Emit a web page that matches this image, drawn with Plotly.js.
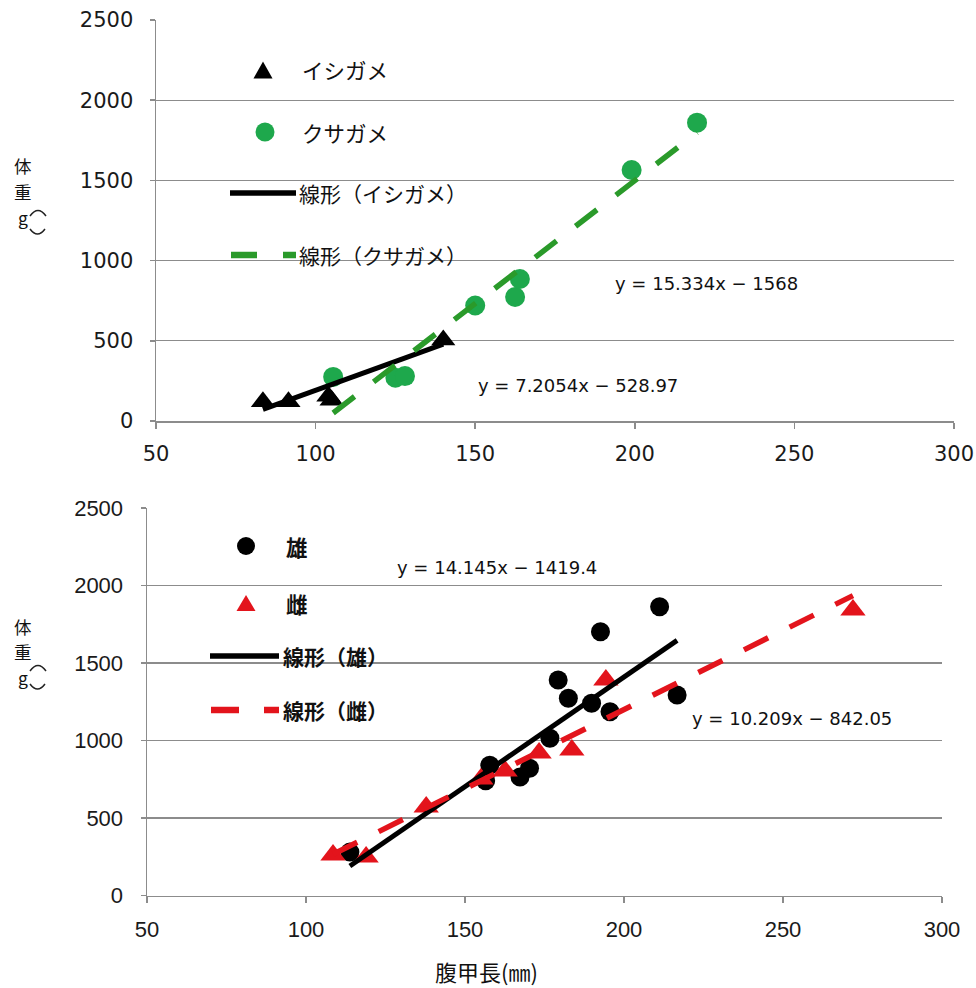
<!DOCTYPE html>
<html>
<head>
<meta charset="utf-8">
<script src="https://cdn.plot.ly/plotly-3.0.1.min.js"></script>
<style>html,body{margin:0;padding:0;background:#fff;}#chart{width:976px;height:988px;}</style>
</head>
<body>
<div id="chart"></div>
<script>
// ---- Data ----
// Top chart: species
const ishiX = [83.5, 91.5, 104, 105, 140];          // イシガメ 腹甲長
const ishiY = [120, 120, 155, 130, 505];            // イシガメ 体重
const kusaX = [105.5, 125, 128, 150, 162.5, 164, 199, 219.5];   // クサガメ
const kusaY = [275, 270, 280, 720, 773, 885, 1565, 1860];
// Bottom chart: sex
const osuX = [113.8, 156.5, 157.8, 167.3, 170.3, 176.7, 179.3, 182.5, 189.8, 192.6, 195.6, 211.2, 216.7]; // 雄
const osuY = [280, 740, 840, 765, 821, 1014, 1390, 1272, 1240, 1702, 1186, 1863, 1294];
const mesuX = [108.5, 118.9, 137.8, 155, 162.6, 173.3, 183.6, 194.3, 272];  // 雌
const mesuY = [261, 248, 571, 752, 803, 919, 939, 1390, 1842];
// Trendline coefficients as printed on the chart
const fitIshi = {slope: 7.2054, icpt: -528.97};
const fitKusa = {slope: 15.334, icpt: -1568};
const fitOsu  = {slope: 14.145, icpt: -1419.4};
const fitMesu = {slope: 10.209, icpt: -842.05};
// Labels
const seriesNames1 = ["イシガメ", "クサガメ", "線形（イシガメ）", "線形（クサガメ）"];
const seriesNames2 = ["雄", "雌", "線形（雄）", "線形（雌）"];
const xTitle = "腹甲長(㎜)";
const yTitleChars = ["体", "重", "g"];
const xTicks = [50, 100, 150, 200, 250, 300];
const yTicks = [0, 500, 1000, 1500, 2000, 2500];

// ---- Helpers ----
const W = 976, H = 988;
const PX = x => x / W;
const PY = y => 1 - y / H;
function fmtEq(f) {
  const s = f.icpt < 0 ? " − " : " + ";
  return "y = " + f.slope + "x" + s + Math.abs(f.icpt);
}
function fitLine(xs, f) {
  const lo = Math.min(...xs), hi = Math.max(...xs);
  return {x: [lo, hi], y: [f.slope * lo + f.icpt, f.slope * hi + f.icpt]};
}

const black = "#000000";
const greenPt = "#1ea84c";
const greenLn = "#2a9a2a";
const red = "#e3141c";
const gridC = "#8c8c8c";

const l1 = fitLine(ishiX, fitIshi), l2 = fitLine(kusaX, fitKusa);
const l3 = fitLine(osuX, fitOsu), l4 = fitLine(mesuX, fitMesu);

const traces = [
  {x: ishiX, y: ishiY, type: "scatter", mode: "markers", name: seriesNames1[0], xaxis: "x", yaxis: "y",
   marker: {symbol: "triangle-up", size: 21, color: black}},
  {x: kusaX, y: kusaY, type: "scatter", mode: "markers", name: seriesNames1[1], xaxis: "x", yaxis: "y",
   marker: {symbol: "circle", size: 20, color: greenPt}},
  {x: l1.x, y: l1.y, type: "scatter", mode: "lines", name: seriesNames1[2], xaxis: "x", yaxis: "y",
   line: {color: black, width: 5}},
  {x: l2.x, y: l2.y, type: "scatter", mode: "lines", name: seriesNames1[3], xaxis: "x", yaxis: "y",
   line: {color: greenLn, width: 5.5, dash: "27px,24px"}},
  {x: osuX, y: osuY, type: "scatter", mode: "markers", name: seriesNames2[0], xaxis: "x2", yaxis: "y2",
   marker: {symbol: "circle", size: 19, color: black}},
  {x: mesuX, y: mesuY, type: "scatter", mode: "markers", name: seriesNames2[1], xaxis: "x2", yaxis: "y2",
   marker: {symbol: "triangle-up", size: 22, color: red}},
  {x: l3.x, y: l3.y, type: "scatter", mode: "lines", name: seriesNames2[2], xaxis: "x2", yaxis: "y2",
   line: {color: black, width: 5}},
  {x: l4.x, y: l4.y, type: "scatter", mode: "lines", name: seriesNames2[3], xaxis: "x2", yaxis: "y2",
   line: {color: red, width: 5.5, dash: "27px,24px"}}
];

const tickTop = {family: "DejaVu Sans, Arial, sans-serif", size: 21, color: "#1a1a1a"};
const tickBot = {family: "Liberation Sans Narrow, Liberation Sans, Arial, sans-serif", size: 22, color: "#1a1a1a"};
function xax(domain, font, anchor, stand) {
  return {domain: domain, anchor: anchor, range: [50, 300], tickmode: "array", tickvals: xTicks,
    showgrid: false, zeroline: false, showline: true, linecolor: gridC, linewidth: 1.5,
    ticks: "outside", ticklen: 6, tickcolor: gridC, tickwidth: 1.5, tickfont: font,
    ticklabelstandoff: stand, automargin: false, fixedrange: true};
}
function yax(domain, font, anchor, stand) {
  return {domain: domain, anchor: anchor, range: [0, 2500], tickmode: "array", tickvals: yTicks,
    showgrid: true, gridcolor: gridC, gridwidth: 1.4, zeroline: false, showline: true, linecolor: gridC,
    linewidth: 1.5, ticks: "outside", ticklen: 5, tickcolor: gridC, tickwidth: 1.5, tickfont: font,
    ticklabelstandoff: stand, automargin: false, fixedrange: true};
}

const jp = "Noto Sans CJK JP, sans-serif";
const anns = [];
function txt(t, x, y, size, xanchor, font, weight) {
  anns.push({text: t, x: PX(x), y: PY(y), xref: "paper", yref: "paper", showarrow: false,
    xanchor: xanchor || "center", yanchor: "middle",
    font: {family: font || jp, size: size, color: "#111", weight: weight || "normal"}});
}
// Legend texts (top)
txt(seriesNames1[0], 300, 70, 21.5, "left");
txt(seriesNames1[1], 300, 132, 21.5, "left");
txt(seriesNames1[2], 297, 193, 21, "left");
txt(seriesNames1[3], 297, 255, 21, "left");
// Legend texts (bottom)
txt(seriesNames2[0], 284, 546, 21.5, "left", jp, "bold");
txt(seriesNames2[1], 284, 603, 21.5, "left", jp, "bold");
txt(seriesNames2[2], 281, 656, 21, "left", jp, "bold");
txt(seriesNames2[3], 281, 710, 21, "left", jp, "bold");
// Equations
const eqFont = "DejaVu Sans, Arial, sans-serif";
txt(fmtEq(fitKusa), 706, 283, 18, "center", eqFont);
txt(fmtEq(fitIshi), 578, 385, 18, "center", eqFont);
txt(fmtEq(fitOsu), 497, 567, 18, "center", eqFont);
txt(fmtEq(fitMesu), 792, 718, 18, "center", eqFont);
// Axis titles (stacked vertical text, one character per line)
[[166, 191.5, 217], [626, 651.5, 677]].forEach(ys => {
  yTitleChars.forEach((c, i) => txt(c, 23, ys[i], 17.5));
});
txt(xTitle, 486, 971, 22);

const shapes = [];
function seg(x0, x1, y, color, w) {
  shapes.push({type: "line", xref: "paper", yref: "paper", x0: PX(x0), x1: PX(x1), y0: PY(y), y1: PY(y),
    line: {color: color, width: w}});
}
function dot(cx, cy, r, color) {
  shapes.push({type: "circle", xref: "paper", yref: "paper", x0: PX(cx - r), x1: PX(cx + r),
    y0: PY(cy + r), y1: PY(cy - r), fillcolor: color, line: {width: 0}});
}
function tri(cx, cy, w, h, color) {
  const p = "M" + PX(cx - w / 2) + "," + PY(cy + h / 2) + " L" + PX(cx + w / 2) + "," + PY(cy + h / 2) +
    " L" + PX(cx) + "," + PY(cy - h / 2) + " Z";
  shapes.push({type: "path", xref: "paper", yref: "paper", path: p, fillcolor: color, line: {width: 0}});
}
function arc(x0, x1, y, dy, color) {
  const p = "M" + PX(x0) + "," + PY(y) + " Q" + PX((x0 + x1) / 2) + "," + PY(y + dy) + " " + PX(x1) + "," + PY(y);
  shapes.push({type: "path", xref: "paper", yref: "paper", path: p, line: {color: color, width: 1.5}});
}
// Top legend symbols
tri(263, 70, 19, 17, black);
dot(265, 132, 9.5, greenPt);
seg(230, 296, 193, black, 5.5);
seg(231, 257, 255, greenLn, 6.5);
seg(283, 296, 255, greenLn, 6.5);
// Bottom legend symbols
dot(246, 546, 9, black);
tri(246, 603, 19, 16, red);
seg(210, 279, 656, black, 5.5);
seg(211, 239, 710, red, 6.5);
seg(264, 279, 710, red, 6.5);
// parentheses of (g), drawn rotated as in the reference
arc(30, 46, 216, -11, "#222");
arc(30, 45, 229, 10, "#222");
arc(30, 46, 671, -11, "#222");
arc(30, 45, 684, 10, "#222");

const layout = {
  width: W, height: H, margin: {l: 0, r: 0, t: 0, b: 0},
  paper_bgcolor: "#ffffff", plot_bgcolor: "#ffffff", showlegend: false,
  xaxis: xax([156 / W, 954 / W], tickTop, "y", 7),
  yaxis: yax([1 - 421 / H, 1 - 20 / H], tickTop, "x", 12),
  xaxis2: xax([147 / W, 942 / W], tickBot, "y2", 8),
  yaxis2: yax([1 - 895.5 / H, 1 - 508 / H], tickBot, "x2", 13),
  annotations: anns, shapes: shapes
};
Plotly.newPlot("chart", traces, layout, {staticPlot: true, displayModeBar: false});
</script>
</body>
</html>
